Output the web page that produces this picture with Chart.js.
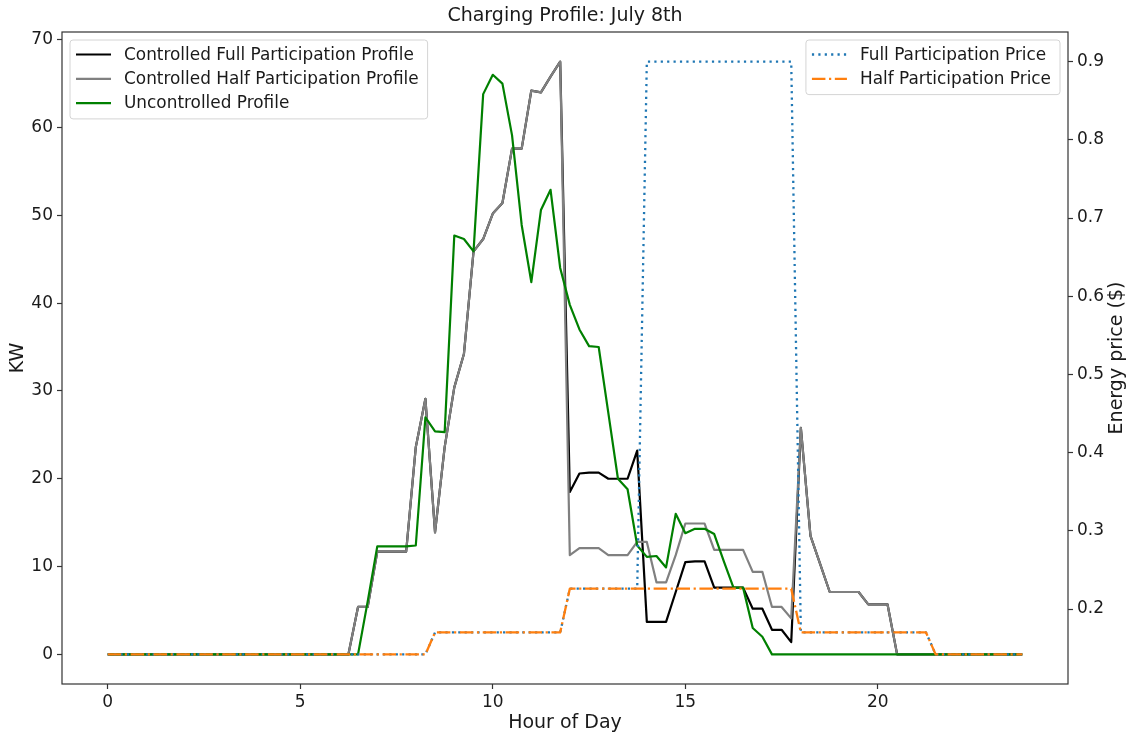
<!DOCTYPE html>
<html>
<head>
<meta charset="utf-8">
<script src="https://cdn.jsdelivr.net/npm/chart.js@4/dist/chart.umd.min.js"></script>
<style>
  html, body { margin: 0; padding: 0; background: #ffffff; }
  canvas { display: block; }
</style>
</head>
<body>
<canvas id="chart" width="1131" height="736"></canvas>
<script>
// Quarter-hour time stamps of the day (hours)
const hours = [
  0, 0.25, 0.5, 0.75, 1, 1.25, 1.5, 1.75, 2, 2.25, 2.5, 2.75,
  3, 3.25, 3.5, 3.75, 4, 4.25, 4.5, 4.75, 5, 5.25, 5.5, 5.75,
  6, 6.25, 6.5, 6.75, 7, 7.25, 7.5, 7.75, 8, 8.25, 8.5, 8.75,
  9, 9.25, 9.5, 9.75, 10, 10.25, 10.5, 10.75, 11, 11.25, 11.5, 11.75,
  12, 12.25, 12.5, 12.75, 13, 13.25, 13.5, 13.75, 14, 14.25, 14.5, 14.75,
  15, 15.25, 15.5, 15.75, 16, 16.25, 16.5, 16.75, 17, 17.25, 17.5, 17.75,
  18, 18.25, 18.5, 18.75, 19, 19.25, 19.5, 19.75, 20, 20.25, 20.5, 20.75,
  21, 21.25, 21.5, 21.75, 22, 22.25, 22.5, 22.75, 23, 23.25, 23.5, 23.75
];

// Charging load (kW), controlled with full participation
const fullProfile = [
  0, 0, 0, 0, 0, 0, 0, 0, 0, 0, 0, 0,
  0, 0, 0, 0, 0, 0, 0, 0, 0, 0, 0, 0,
  0, 0, 5.4, 5.4, 11.7, 11.7, 11.7, 11.7, 23.6, 29.1, 13.9, 23.6,
  30.4, 34.2, 45.9, 47.3, 50.2, 51.4, 57.6, 57.6, 64.2, 64.0, 65.8, 67.5,
  18.5, 20.6, 20.7, 20.7, 20.0, 20.0, 20.0, 23.2, 3.7, 3.7, 3.7, 7.1,
  10.5, 10.6, 10.6, 7.6, 7.6, 7.6, 7.6, 5.2, 5.2, 2.8, 2.8, 1.4,
  25.8, 13.5, 10.3, 7.1, 7.1, 7.1, 7.1, 5.7, 5.7, 5.7, 0, 0,
  0, 0, 0, 0, 0, 0, 0, 0, 0, 0, 0, 0
];

// Charging load (kW), controlled with half participation
const halfProfile = [
  0, 0, 0, 0, 0, 0, 0, 0, 0, 0, 0, 0,
  0, 0, 0, 0, 0, 0, 0, 0, 0, 0, 0, 0,
  0, 0, 5.4, 5.4, 11.7, 11.7, 11.7, 11.7, 23.6, 29.1, 13.9, 23.6,
  30.4, 34.2, 45.9, 47.3, 50.2, 51.4, 57.6, 57.6, 64.2, 64.0, 65.8, 67.5,
  11.3, 12.1, 12.1, 12.1, 11.3, 11.3, 11.3, 12.8, 12.8, 8.2, 8.2, 11.3,
  14.9, 14.9, 14.9, 11.9, 11.9, 11.9, 11.9, 9.4, 9.4, 5.4, 5.4, 4.1,
  25.8, 13.5, 10.3, 7.1, 7.1, 7.1, 7.1, 5.7, 5.7, 5.7, 0, 0,
  0, 0, 0, 0, 0, 0, 0, 0, 0, 0, 0, 0
];

// Charging load (kW) without any control
const uncontrolledProfile = [
  0, 0, 0, 0, 0, 0, 0, 0, 0, 0, 0, 0,
  0, 0, 0, 0, 0, 0, 0, 0, 0, 0, 0, 0,
  0, 0, 0, 6.0, 12.3, 12.3, 12.3, 12.3, 12.4, 27.0, 25.4, 25.3,
  47.7, 47.3, 45.9, 63.8, 66.0, 65.0, 59.1, 48.9, 42.4, 50.6, 52.9, 44.0,
  39.8, 37.0, 35.1, 35.0, 27.5, 20.0, 18.8, 12.4, 11.1, 11.2, 9.9, 16.0,
  13.8, 14.3, 14.3, 13.7, 10.6, 7.6, 7.6, 3.0, 2.0, 0, 0, 0,
  0, 0, 0, 0, 0, 0, 0, 0, 0, 0, 0, 0,
  0, 0, 0, 0, 0, 0, 0, 0, 0, 0, 0, 0
];

// Energy price ($) seen with full participation
const fullPrice = [
  0.142, 0.142, 0.142, 0.142, 0.142, 0.142, 0.142, 0.142, 0.142, 0.142, 0.142, 0.142,
  0.142, 0.142, 0.142, 0.142, 0.142, 0.142, 0.142, 0.142, 0.142, 0.142, 0.142, 0.142,
  0.142, 0.142, 0.142, 0.142, 0.142, 0.142, 0.142, 0.142, 0.142, 0.142, 0.170, 0.170,
  0.170, 0.170, 0.170, 0.170, 0.170, 0.170, 0.170, 0.170, 0.170, 0.170, 0.170, 0.170,
  0.226, 0.226, 0.226, 0.226, 0.226, 0.226, 0.226, 0.226, 0.9, 0.9, 0.9, 0.9,
  0.9, 0.9, 0.9, 0.9, 0.9, 0.9, 0.9, 0.9, 0.9, 0.9, 0.9, 0.9,
  0.170, 0.170, 0.170, 0.170, 0.170, 0.170, 0.170, 0.170, 0.170, 0.170, 0.170, 0.170,
  0.170, 0.170, 0.142, 0.142, 0.142, 0.142, 0.142, 0.142, 0.142, 0.142, 0.142, 0.142
];

// Energy price ($) seen with half participation
const halfPrice = [
  0.142, 0.142, 0.142, 0.142, 0.142, 0.142, 0.142, 0.142, 0.142, 0.142, 0.142, 0.142,
  0.142, 0.142, 0.142, 0.142, 0.142, 0.142, 0.142, 0.142, 0.142, 0.142, 0.142, 0.142,
  0.142, 0.142, 0.142, 0.142, 0.142, 0.142, 0.142, 0.142, 0.142, 0.142, 0.170, 0.170,
  0.170, 0.170, 0.170, 0.170, 0.170, 0.170, 0.170, 0.170, 0.170, 0.170, 0.170, 0.170,
  0.226, 0.226, 0.226, 0.226, 0.226, 0.226, 0.226, 0.226, 0.226, 0.226, 0.226, 0.226,
  0.226, 0.226, 0.226, 0.226, 0.226, 0.226, 0.226, 0.226, 0.226, 0.226, 0.226, 0.226,
  0.170, 0.170, 0.170, 0.170, 0.170, 0.170, 0.170, 0.170, 0.170, 0.170, 0.170, 0.170,
  0.170, 0.170, 0.142, 0.142, 0.142, 0.142, 0.142, 0.142, 0.142, 0.142, 0.142, 0.142
];

// Tick positions
const hourTicks = [0, 5, 10, 15, 20];
const kwTicks = [0, 10, 20, 30, 40, 50, 60, 70];
const priceTicks = [0.2, 0.3, 0.4, 0.5, 0.6, 0.7, 0.8, 0.9];

// Text
const chartTitle = 'Charging Profile: July 8th';
const xTitle = 'Hour of Day';
const yLeftTitle = 'KW';
const yRightTitle = 'Energy price ($)';
const seriesNames = [
  'Controlled Full Participation Profile',
  'Controlled Half Participation Profile',
  'Uncontrolled Profile',
  'Full Participation Price',
  'Half Participation Price'
];

const FONT = '"DejaVu Sans", "Liberation Sans", sans-serif';
const TEXT = '#1a1a1a';
const toXY = vals => hours.map((h, i) => ({ x: h, y: vals[i] }));

// Padded axis range around the data (5% each side)
function paddedRange(arrays) {
  let lo = Infinity, hi = -Infinity;
  arrays.forEach(a => a.forEach(v => { lo = Math.min(lo, v); hi = Math.max(hi, v); }));
  const m = (hi - lo) * 0.05;
  return [lo - m, hi + m];
}
const xRange = paddedRange([hours]);
const kwRange = paddedRange([fullProfile, halfProfile, uncontrolledProfile]);
const priceRange = paddedRange([fullPrice, halfPrice]);

const DOT = [2.2, 4.2];
const DASHDOT = [13.5, 3.6, 2.2, 3.6];

const datasets = [
  { label: seriesNames[0], data: toXY(fullProfile), yAxisID: 'y', borderColor: '#000000', borderWidth: 2.2, order: 5 },
  { label: seriesNames[1], data: toXY(halfProfile), yAxisID: 'y', borderColor: '#808080', borderWidth: 2.2, order: 4 },
  { label: seriesNames[2], data: toXY(uncontrolledProfile), yAxisID: 'y', borderColor: '#008000', borderWidth: 2.2, order: 3 },
  { label: seriesNames[3], data: toXY(fullPrice), yAxisID: 'y2', borderColor: '#1f77b4', borderWidth: 2.3, borderDash: DOT, order: 2 },
  { label: seriesNames[4], data: toXY(halfPrice), yAxisID: 'y2', borderColor: '#ff7f0e', borderWidth: 2.3, borderDash: DASHDOT, order: 1 }
];
datasets.forEach(d => {
  d.pointRadius = 0;
  d.pointHoverRadius = 0;
  d.tension = 0;
  d.fill = false;
  d.borderCapStyle = 'butt';
  d.borderJoinStyle = 'round';
});

// Frame, titles and legend boxes
const decorations = {
  id: 'decorations',
  afterDraw(chart) {
    const ctx = chart.ctx;
    const a = chart.chartArea;
    const cx = (a.left + a.right) / 2;
    const cy = (a.top + a.bottom) / 2;

    ctx.save();
    // plot frame
    ctx.strokeStyle = '#333333';
    ctx.lineWidth = 1.2;
    ctx.strokeRect(a.left, a.top, a.right - a.left, a.bottom - a.top);

    // titles
    ctx.fillStyle = TEXT;
    ctx.textAlign = 'center';
    ctx.textBaseline = 'middle';
    ctx.font = '19px ' + FONT;
    ctx.fillText(chartTitle, cx, 16);
    ctx.font = '19px ' + FONT;
    ctx.fillText(xTitle, cx, 723);

    ctx.save();
    ctx.translate(18, cy);
    ctx.rotate(-Math.PI / 2);
    ctx.fillText(yLeftTitle, 0, 0);
    ctx.restore();

    ctx.save();
    ctx.translate(1117, cy);
    ctx.rotate(-Math.PI / 2);
    ctx.fillText(yRightTitle, 0, 0);
    ctx.restore();

    // legends
    drawLegend(ctx, chart, [0, 1, 2], a.left + 8, a.top + 8, 'left');
    drawLegend(ctx, chart, [3, 4], a.right - 8, a.top + 8, 'right');
    ctx.restore();
  }
};

function drawLegend(ctx, chart, idxs, anchorX, top, side) {
  const fs = 16.9;
  const rowH = 24.3;
  const padL = 6, handle = 35, gap = 13, padR = 9;
  ctx.font = fs + 'px ' + FONT;
  let maxW = 0;
  idxs.forEach(i => { maxW = Math.max(maxW, ctx.measureText(chart.data.datasets[i].label).width); });
  const w = padL + handle + gap + maxW + padR;
  const h = idxs.length * rowH + 6;
  const x = side === 'left' ? anchorX : anchorX - w;

  // rounded frame
  const r = 3;
  ctx.beginPath();
  ctx.moveTo(x + r, top);
  ctx.lineTo(x + w - r, top);
  ctx.quadraticCurveTo(x + w, top, x + w, top + r);
  ctx.lineTo(x + w, top + h - r);
  ctx.quadraticCurveTo(x + w, top + h, x + w - r, top + h);
  ctx.lineTo(x + r, top + h);
  ctx.quadraticCurveTo(x, top + h, x, top + h - r);
  ctx.lineTo(x, top + r);
  ctx.quadraticCurveTo(x, top, x + r, top);
  ctx.closePath();
  ctx.fillStyle = 'rgba(255,255,255,0.85)';
  ctx.fill();
  ctx.strokeStyle = '#d4d4d4';
  ctx.lineWidth = 1;
  ctx.stroke();

  idxs.forEach((i, k) => {
    const ds = chart.data.datasets[i];
    const y = top + 14.5 + k * rowH;
    ctx.save();
    ctx.strokeStyle = ds.borderColor;
    ctx.lineWidth = ds.borderWidth;
    ctx.lineCap = 'butt';
    ctx.setLineDash(ds.borderDash || []);
    ctx.beginPath();
    ctx.moveTo(x + padL, y);
    ctx.lineTo(x + padL + handle, y);
    ctx.stroke();
    ctx.restore();
    ctx.fillStyle = TEXT;
    ctx.textAlign = 'left';
    ctx.textBaseline = 'middle';
    ctx.fillText(ds.label, x + padL + handle + gap, y + 1);
  });
}

const tickFont = { family: FONT, size: 17 };
const axisGrid = { display: true, drawOnChartArea: false, drawTicks: true, tickLength: 5, color: '#333333', tickWidth: 1.2 };
const axisBorder = { display: false };

new Chart(document.getElementById('chart'), {
  type: 'line',
  data: { datasets },
  plugins: [decorations],
  options: {
    responsive: false,
    animation: false,
    devicePixelRatio: 1,
    layout: { padding: { top: 32, left: 0, right: 0, bottom: 0 } },
    plugins: {
      legend: { display: false },
      title: { display: false },
      tooltip: { enabled: false }
    },
    events: [],
    scales: {
      x: {
        type: 'linear',
        position: 'bottom',
        min: xRange[0],
        max: xRange[1],
        grid: axisGrid,
        border: axisBorder,
        ticks: { font: tickFont, color: TEXT, padding: 3, maxRotation: 0, callback: v => String(v) },
        afterBuildTicks: s => { s.ticks = hourTicks.map(v => ({ value: v })); },
        afterFit: s => { s.height = 52; }
      },
      y: {
        type: 'linear',
        position: 'left',
        min: kwRange[0],
        max: kwRange[1],
        grid: axisGrid,
        border: axisBorder,
        ticks: { font: tickFont, color: TEXT, padding: 4, callback: v => String(v) },
        afterBuildTicks: s => { s.ticks = kwTicks.map(v => ({ value: v })); },
        afterFit: s => { s.width = 62; }
      },
      y2: {
        type: 'linear',
        position: 'right',
        min: priceRange[0],
        max: priceRange[1],
        grid: axisGrid,
        border: axisBorder,
        ticks: { font: tickFont, color: TEXT, padding: 4, callback: v => v.toFixed(1) },
        afterBuildTicks: s => { s.ticks = priceTicks.map(v => ({ value: v })); },
        afterFit: s => { s.width = 63; }
      }
    }
  }
});
</script>
</body>
</html>
